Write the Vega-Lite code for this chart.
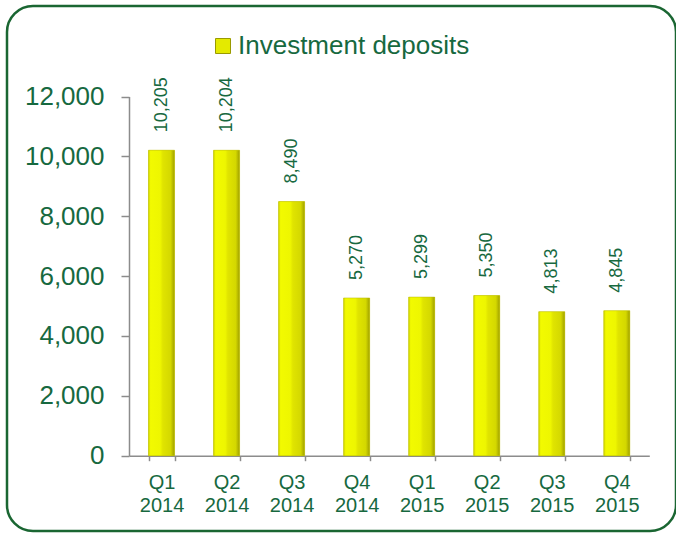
{
  "$schema": "https://vega.github.io/schema/vega-lite/v6.json",
  "width": 669,
  "height": 525,
  "autosize": {"type": "none"},
  "padding": {"left": 7, "top": 6, "right": 0, "bottom": 2},
  "background": "white",
  "config": {
    "view": {"stroke": "#1a6632", "strokeWidth": 2.5, "cornerRadius": 26, "fill": "white"},
    "font": "Liberation Sans"
  },
  "data": {
    "values": [
      {"quarter": "Q1 2014", "value": 10205, "series": "Investment deposits"},
      {"quarter": "Q2 2014", "value": 10204, "series": "Investment deposits"},
      {"quarter": "Q3 2014", "value": 8490, "series": "Investment deposits"},
      {"quarter": "Q4 2014", "value": 5270, "series": "Investment deposits"},
      {"quarter": "Q1 2015", "value": 5299, "series": "Investment deposits"},
      {"quarter": "Q2 2015", "value": 5350, "series": "Investment deposits"},
      {"quarter": "Q3 2015", "value": 4813, "series": "Investment deposits"},
      {"quarter": "Q4 2015", "value": 4845, "series": "Investment deposits"}
    ]
  },
  "encoding": {
    "x": {
      "field": "quarter",
      "type": "nominal",
      "sort": null,
      "scale": {"range": [122, 642.3], "paddingInner": 0.6, "paddingOuter": 0.3},
      "axis": {
        "title": null,
        "offset": -75.3,
        "domain": true,
        "domainColor": "#8c8c8c",
        "domainWidth": 1.5,
        "tickBand": "extent",
        "tickSize": 5,
        "tickColor": "#8c8c8c",
        "tickWidth": 1.5,
        "labelExpr": "split(datum.label, ' ')",
        "labelFontSize": 20,
        "labelColor": "#17693f",
        "labelLineHeight": 23,
        "labelPadding": 12,
        "labelAngle": 0
      }
    },
    "y": {
      "field": "value",
      "type": "quantitative",
      "scale": {"domain": [0, 12000], "range": [449.7, 90.5], "nice": false, "zero": true},
      "axis": {
        "title": null,
        "offset": -122,
        "domain": true,
        "domainColor": "#8c8c8c",
        "domainWidth": 1.5,
        "grid": false,
        "values": [0, 2000, 4000, 6000, 8000, 10000, 12000],
        "labelExpr": "format(datum.value, ',')",
        "tickSize": 8,
        "tickColor": "#8c8c8c",
        "tickWidth": 1.5,
        "labelFontSize": 26,
        "labelColor": "#17693f",
        "labelPadding": 17
      }
    }
  },
  "layer": [
    {
      "mark": {"type": "bar"},
      "encoding": {
        "color": {
          "field": "series",
          "type": "nominal",
          "scale": {"range": ["#e4ea00"]},
          "legend": {
            "orient": "none",
            "legendX": 203,
            "legendY": 27,
            "title": null,
            "symbolType": "square",
            "symbolSize": 225,
            "labelFontSize": 26,
            "labelLimit": 500,
            "labelColor": "#17693f",
            "labelOffset": 2,
            "symbolStrokeColor": "#9a9a00",
            "symbolStrokeWidth": 1,
            "symbolOpacity": 1,
            "padding": 0
          }
        }
      }
    },
    {
      "mark": {
        "type": "bar",
        "stroke": "#b8b800",
        "strokeWidth": 0.5,
        "color": {
          "gradient": "linear",
          "x1": 0, "x2": 1, "y1": 0, "y2": 0,
          "stops": [
            {"offset": 0, "color": "#d0d400"},
            {"offset": 0.08, "color": "#f2fa00"},
            {"offset": 0.45, "color": "#eef600"},
            {"offset": 0.55, "color": "#e0e400"},
            {"offset": 0.85, "color": "#d4d800"},
            {"offset": 1, "color": "#a0a000"}
          ]
        }
      }
    },
    {
      "mark": {
        "type": "text",
        "angle": 270,
        "align": "left",
        "baseline": "middle",
        "dx": 18,
        "fontSize": 18,
        "color": "#17693f"
      },
      "encoding": {
        "text": {"field": "value", "type": "quantitative", "format": ","}
      }
    }
  ]
}
